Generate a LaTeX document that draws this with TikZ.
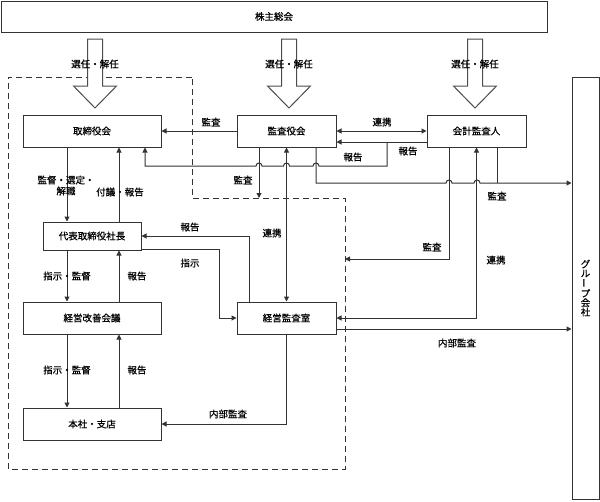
\documentclass[tikz,border=0pt]{standalone}
\usepackage{fontspec}
\newfontfamily\jpfont{Noto Sans CJK JP}[FakeBold=0.6]
\usetikzlibrary{arrows.meta}

\begin{document}
\begin{tikzpicture}[x=1pt,y=-1pt,line width=1pt,
    font=\jpfont\fontsize{9.5}{11}\selectfont,
    hako/.style={draw=black!80,fill=white,minimum width=99pt,minimum height=32pt,inner sep=0},
    ya/.style={draw=black!80,-{Triangle[length=5pt,width=5pt]}},
    yaya/.style={draw=black!80,{Triangle[length=5pt,width=5pt]}-{Triangle[length=5pt,width=5pt]}},
    moji/.style={inner sep=0,align=center}]
  \useasboundingbox (0,0) rectangle (600,501);

  % 社内の範囲（破線）
  \draw[black!80,dash pattern=on 6pt off 4pt] (192,77) -- (8,77) -- (8,469) -- (345,469) -- (345,198) -- (192,198) -- cycle;
  \coordinate (kado) at (345,198);

  % 株主総会からの選任・解任
  \foreach \cx in {95,289,475} {
    \draw[black!70,fill=white] ({\cx-7.5},39) -- ({\cx-7.5},86) -- ({\cx-21.5},86) -- (\cx,108)
      -- ({\cx+21.5},86) -- ({\cx+7.5},86) -- ({\cx+7.5},39) -- cycle;
    \node[moji] (senin\cx) at (\cx,64) {選任・解任};
  }

  \node[hako,minimum width=546pt,minimum height=31pt] (soukai) at (274,16.5) {株主総会};
  \node[hako,minimum width=138pt] (tori) at (92,131) {取締役会};
  \node[hako] (kansa) at (286.5,131) {監査役会};
  \node[hako] (kaikei) at (476.5,131) {会計監査人};
  \node[hako,minimum width=98pt,minimum height=28pt] (daihyo) at (92,236) {代表取締役社長};
  \node[hako,minimum width=138pt] (kaizen) at (92,318) {経営改善会議};
  \node[hako] (keiei) at (286.5,318) {経営監査室};
  \node[hako,minimum width=138pt] (honsha) at (92,424) {本社・支店};
  \node[hako,minimum width=27pt,minimum height=422pt,align=center,
    font=\jpfont\fontsize{9.5}{9.3}\selectfont] (group) at (585.5,288)
    {グ\\ル\\\rotatebox{90}{ー}\\プ\\会\\社};

  % 取締役会まわり
  \draw[ya] (kansa) -- (tori) node[moji] at (211,122) {監査};
  \draw[ya] ([xshift=-25pt]tori.south) -- ([xshift=-25pt]daihyo.north)
    node[moji] at (66,185.5) {監督・選定・\\解職};
  \draw[ya] ([xshift=27pt]daihyo.north) -- ([xshift=27pt]tori.south) node[moji] at (120,192) {付議・報告};
  \draw[ya] ([xshift=-25pt]daihyo.south) -- ([xshift=-25pt]kaizen.north) node[moji] at (67,276) {指示・監督};
  \draw[ya] ([xshift=27pt]kaizen.north) -- ([xshift=27pt]daihyo.south) node[moji] at (137,276) {報告};
  \draw[ya] ([xshift=-25pt]kaizen.south) -- ([xshift=-25pt]honsha.north) node[moji] at (67,370) {指示・監督};
  \draw[ya] ([xshift=27pt]honsha.north) -- ([xshift=27pt]kaizen.south) node[moji] at (137,370) {報告};

  % 監査役会・会計監査人
  \draw[yaya] (kansa) -- (keiei) node[moji] at (272,233) {連携};
  \draw[ya] ([xshift=-27.5pt]kansa.south) -- ([xshift=-27.5pt]kansa.south |- kado) node[moji] at (243,180) {監査};
  \draw[yaya] (kansa) -- (kaikei) node[moji] at (382,122) {連携};
  \coordinate (bunki) at (387,142);
  \draw[ya] ([yshift=-11pt]kaikei.west) -- ([yshift=-11pt]kansa.east) node[moji] at (408,151) {報告};
  \draw[ya] (bunki) -- (387,166) -- (319,166) arc[start angle=0,end angle=180,radius=3pt]
    -- (289.5,166) arc[start angle=0,end angle=180,radius=3pt]
    -- (262,166) arc[start angle=0,end angle=180,radius=3pt]
    -- (145,166) -- ([xshift=53pt]tori.south) node[moji] at (353,157) {報告};
  \draw[ya] ([xshift=29.5pt]kansa.south) -- (316,183) -- (446,183) arc[start angle=180,end angle=0,radius=3pt]
    -- (474,183) arc[start angle=180,end angle=0,radius=3pt]
    -- (group.west |- 0,183) node[moji] at (497,196) {監査};
  \draw[black!80] ([xshift=20.5pt]kaikei.south) -- (497,183);
  \draw[ya] ([xshift=-27.5pt]kaikei.south) |- ([yshift=-61pt]kado) node[moji] at (432,247) {監査};
  \draw[yaya] (kaikei.south) |- (keiei.east) node[moji] at (496,260) {連携};

  % 経営監査室
  \draw[ya] ([yshift=-11pt]keiei.east) -- ([yshift=-11pt]keiei.east -| group.west) node[moji] at (457,343) {内部監査};
  \draw[ya] ([xshift=-37.5pt]keiei.north) |- (daihyo.east) node[moji] at (190,227) {報告};
  \draw[ya] ([yshift=-13pt]daihyo.east) -| ([xshift=-17pt]keiei.west) -- (keiei.west) node[moji] at (190,263) {指示};
  \draw[ya] (keiei.south) |- (honsha.east) node[moji] at (228,414) {内部監査};
\end{tikzpicture}
\end{document}
